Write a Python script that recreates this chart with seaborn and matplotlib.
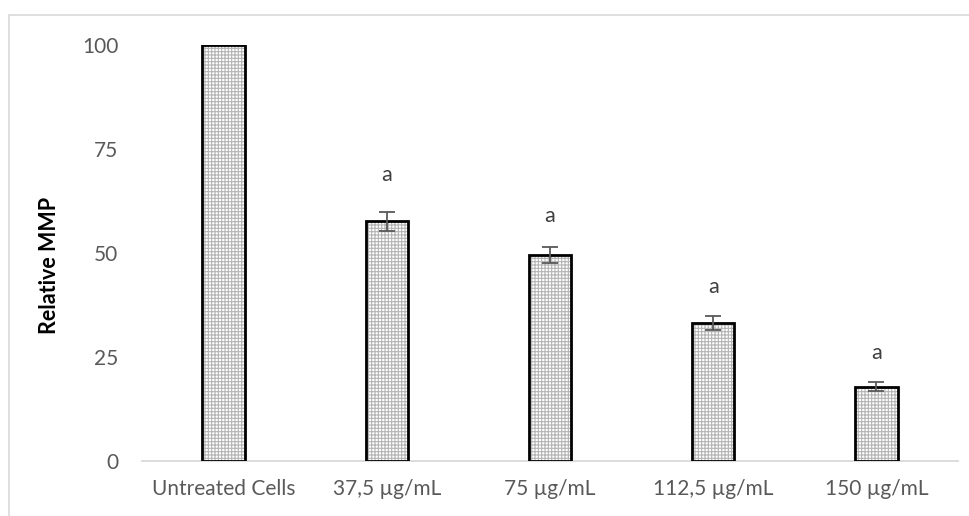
import matplotlib
matplotlib.use('Agg')
import matplotlib.pyplot as plt
import pandas as pd
import seaborn as sns
from matplotlib.lines import Line2D

# Data
groups = ['Untreated Cells', '37,5 µg/mL', '75 µg/mL', '112,5 µg/mL', '150 µg/mL']
mmp = [100, 57.6, 49.5, 33.2, 17.9]
mmp_err = [0, 2.3, 2.0, 1.6, 1.0]
sig = ['', 'a', 'a', 'a', 'a']
sig_y = [0, 68.8, 58.9, 41.8, 26.0]

df = pd.DataFrame({'group': groups, 'value': mmp})

sns.set_style('white')
plt.rcParams['font.family'] = ['Lato', 'DejaVu Sans']
plt.rcParams['hatch.linewidth'] = 0.8

fig = plt.figure(figsize=(9.69, 5.16), dpi=100)
ax = fig.add_axes([0.1465, 0.1066, 0.8421, 0.8062])

# hatched fill, then black outline on top
sns.barplot(data=df, x='group', y='value', ax=ax, width=0.26,
            color='white', edgecolor='#b4b4b4', linewidth=0, errorbar=None,
            hatch='+++++')
sns.barplot(data=df, x='group', y='value', ax=ax, width=0.26,
            fill=False, edgecolor='black', linewidth=2.0, errorbar=None)
for p in ax.patches:
    p.set_zorder(2)

ax.errorbar(x=list(range(1, len(groups))), y=mmp[1:], yerr=mmp_err[1:], fmt='none',
            ecolor='#595959', elinewidth=1.3, capsize=6, capthick=1.3, zorder=3)

for i, (lab, yy) in enumerate(zip(sig, sig_y)):
    if lab:
        ax.text(i, yy, lab, ha='center', va='center', fontsize=15.5, color='#404040')

ax.set_xlim(-0.5, len(groups) - 0.5)
ax.set_ylim(0, 100)
ax.set_yticks([0, 25, 50, 75, 100])
ax.tick_params(axis='both', length=0, labelsize=15, labelcolor='#595959')
ax.tick_params(axis='y', pad=17)
ax.tick_params(axis='x', pad=13)
ax.set_xlabel('')
ax.set_ylabel('Relative MMP', fontsize=15.5, fontweight='bold', color='black')
ax.yaxis.set_label_coords(-0.1, 0.47)

for s in ['top', 'right', 'left']:
    ax.spines[s].set_visible(False)
ax.spines['bottom'].set_color('#d9d9d9')
ax.spines['bottom'].set_linewidth(1.3)
ax.spines['bottom'].set_zorder(1)

# chart area border (light gray, left and top visible)
fig.add_artist(Line2D([9 / 969, 9 / 969], [0, 1 - 15 / 516], color='#d9d9d9', lw=1.2))
fig.add_artist(Line2D([9 / 969, 1], [1 - 15 / 516, 1 - 15 / 516], color='#d9d9d9', lw=1.2))

fig.savefig('out.png', dpi=100)
